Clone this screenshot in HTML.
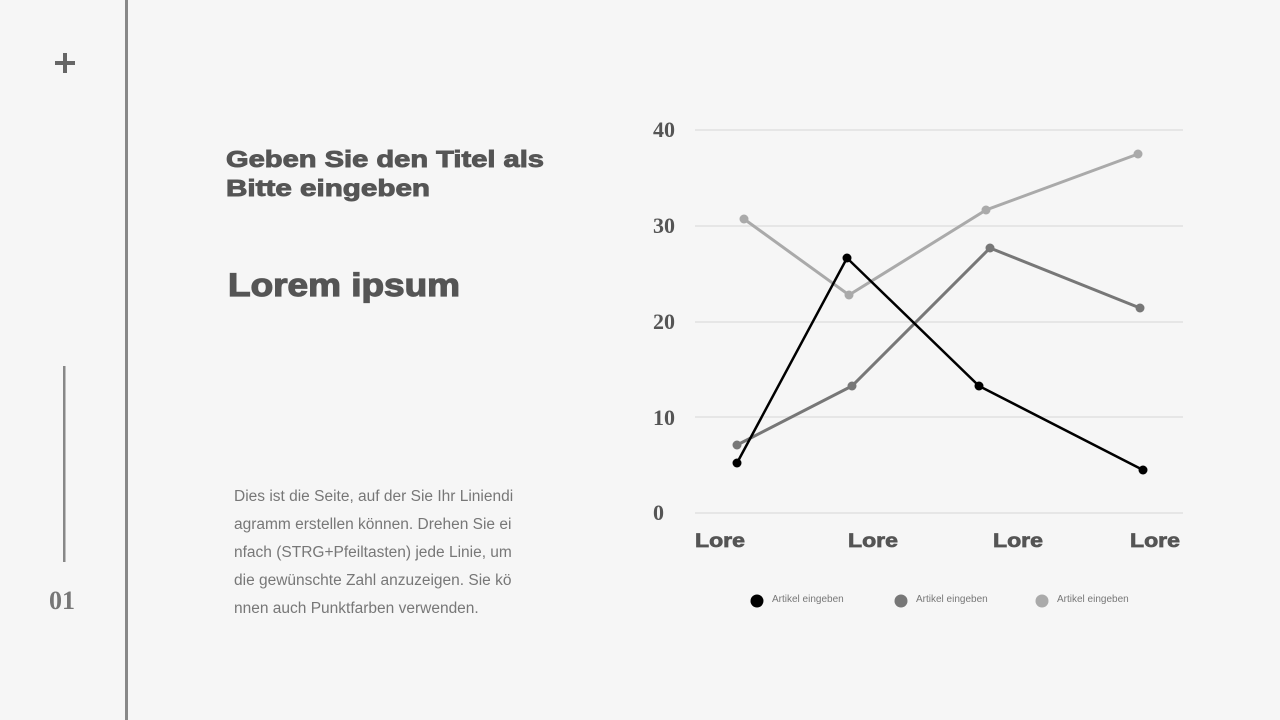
<!DOCTYPE html>
<html><head><meta charset="utf-8"><style>
html,body{margin:0;padding:0;background:#f6f6f6;}
svg{display:block;}
</style></head><body>
<svg width="1280" height="720" viewBox="0 0 1280 720" xmlns="http://www.w3.org/2000/svg">
<rect width="1280" height="720" fill="#f6f6f6"/>
<rect x="125" y="0" width="3" height="720" fill="#888"/>
<rect x="63" y="366" width="2.5" height="196" fill="#888"/>
<rect x="55" y="61" width="20" height="4" fill="#666"/>
<rect x="63" y="53" width="4" height="20" fill="#666"/>
<text x="62" y="609" font-family="Liberation Serif, serif" font-weight="bold" font-size="26" fill="#777" text-anchor="middle">01</text>
<g font-family="Liberation Sans, sans-serif" font-weight="bold" fill="#555" stroke="#555" stroke-width="0.9">
<text x="226" y="167" font-size="23" textLength="318" lengthAdjust="spacingAndGlyphs">Geben Sie den Titel als</text>
<text x="226" y="196" font-size="23" textLength="204" lengthAdjust="spacingAndGlyphs">Bitte eingeben</text>
<text x="228" y="296" font-size="32" stroke-width="1.2" textLength="232" lengthAdjust="spacingAndGlyphs">Lorem ipsum</text>
</g>
<g font-family="Liberation Sans, sans-serif" font-size="15.5" fill="#777">
<text x="234" y="501">Dies ist die Seite, auf der Sie Ihr Liniendi</text>
<text x="234" y="529">agramm erstellen können. Drehen Sie ei</text>
<text x="234" y="557">nfach (STRG+Pfeiltasten) jede Linie, um</text>
<text x="234" y="585">die gewünschte Zahl anzuzeigen. Sie kö</text>
<text x="234" y="613">nnen auch Punktfarben verwenden.</text>
</g>
<g stroke="#e6e6e6" stroke-width="2">
<line x1="695" y1="130" x2="1183" y2="130"/>
<line x1="695" y1="226" x2="1183" y2="226"/>
<line x1="695" y1="322" x2="1183" y2="322"/>
<line x1="695" y1="417" x2="1183" y2="417"/>
<line x1="695" y1="513" x2="1183" y2="513"/>
</g>
<g font-family="Liberation Serif, serif" font-weight="bold" font-size="22" fill="#555">
<text x="653" y="137">40</text>
<text x="653" y="233">30</text>
<text x="653" y="329">20</text>
<text x="653" y="425">10</text>
<text x="653" y="520">0</text>
</g>
<g font-family="Liberation Sans, sans-serif" font-weight="bold" font-size="19" fill="#555" stroke="#555" stroke-width="0.7">
<text x="695" y="547" textLength="50" lengthAdjust="spacingAndGlyphs">Lore</text>
<text x="848" y="547" textLength="50" lengthAdjust="spacingAndGlyphs">Lore</text>
<text x="993" y="547" textLength="50" lengthAdjust="spacingAndGlyphs">Lore</text>
<text x="1130" y="547" textLength="50" lengthAdjust="spacingAndGlyphs">Lore</text>
</g>
<polyline points="744,219 849,295 986,210 1138,154" fill="none" stroke="#aaa" stroke-width="3"/>
<g fill="#aaa"><circle cx="744" cy="219" r="4.5"/><circle cx="849" cy="295" r="4.5"/><circle cx="986" cy="210" r="4.5"/><circle cx="1138" cy="154" r="4.5"/></g>
<polyline points="737,445 852,386 990,248 1140,308" fill="none" stroke="#777" stroke-width="3"/>
<g fill="#777"><circle cx="737" cy="445" r="4.5"/><circle cx="852" cy="386" r="4.5"/><circle cx="990" cy="248" r="4.5"/><circle cx="1140" cy="308" r="4.5"/></g>
<polyline points="737,463 847,258 979,386 1143,470" fill="none" stroke="#000" stroke-width="2.5"/>
<g fill="#000"><circle cx="737" cy="463" r="4.5"/><circle cx="847" cy="258" r="4.5"/><circle cx="979" cy="386" r="4.5"/><circle cx="1143" cy="470" r="4.5"/></g>
<g font-family="Liberation Sans, sans-serif" font-size="10" fill="#777">
<circle cx="757" cy="601" r="6.5" fill="#000"/><text x="772" y="602">Artikel eingeben</text>
<circle cx="901" cy="601" r="6.5" fill="#777"/><text x="916" y="602">Artikel eingeben</text>
<circle cx="1042" cy="601" r="6.5" fill="#aaa"/><text x="1057" y="602">Artikel eingeben</text>
</g>
</svg>
</body></html>
